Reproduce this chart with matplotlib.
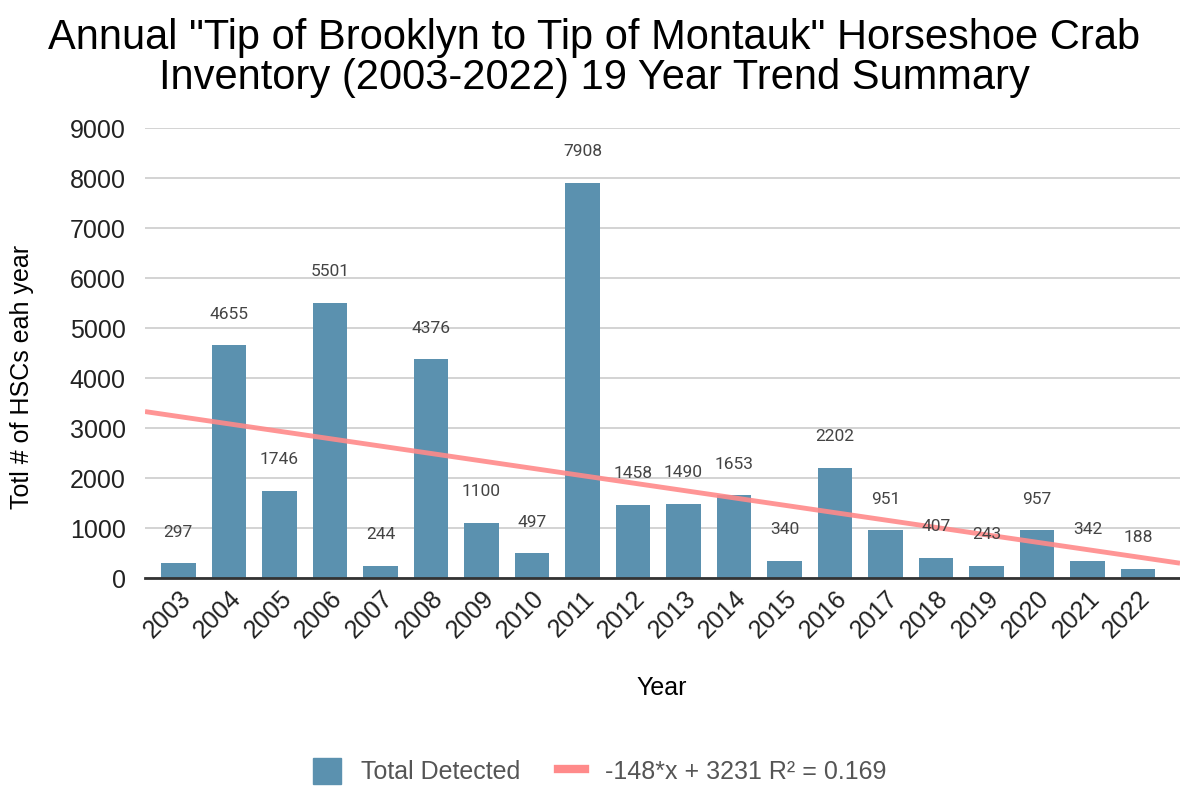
import numpy as np
import matplotlib
matplotlib.use("Agg")
import matplotlib.pyplot as plt
from matplotlib.patches import Patch
from matplotlib.lines import Line2D

plt.rcParams['font.family'] = ['Liberation Sans', 'DejaVu Sans']

years = [str(y) for y in range(2003, 2023)]
detected = [297, 4655, 1746, 5501, 244, 4376, 1100, 497, 7908, 1458,
            1490, 1653, 340, 2202, 951, 407, 243, 957, 342, 188]
trend_slope = -148
trend_icpt = 3231
trend_r2 = 0.169

bar_color = '#5b91af'
trend_color = '#ff8a8a'

fig = plt.figure(figsize=(11.8, 7.88), dpi=100)
ax = fig.add_axes([145 / 1180, 1 - 578 / 788, 1035 / 1180, 450 / 788])

x = np.arange(len(years))
ax.bar(x, detected, width=0.68, color=bar_color, zorder=2)

# value labels above every bar
for xi, v in zip(x, detected):
    ax.annotate(str(v), (xi, v), xytext=(0, 17), textcoords='offset points',
                ha='center', va='bottom', fontsize=12.5, color='#444444',
                family=['Roboto', 'DejaVu Sans'], zorder=4)

ax.set_xlim(-0.66, len(years) - 1 + 0.83)
ax.set_ylim(0, 9000)

# linear trendline across the full plot width
tx = np.array(ax.get_xlim())
ax.plot(tx, trend_slope * tx + trend_icpt, color=trend_color, lw=3.5,
        alpha=0.9, zorder=3, solid_capstyle='butt')

ax.set_yticks(np.arange(0, 9001, 1000))
ax.yaxis.grid(True, color='#cccccc', lw=1.2, zorder=0)
ax.set_axisbelow(True)
ax.tick_params(axis='y', length=0, labelsize=18, pad=14, labelcolor='#222222')
ax.set_xticks(x)
ax.set_xticklabels(years, rotation=45, ha='right', va='top',
                   rotation_mode='anchor', fontsize=18, color='#222222')
ax.tick_params(axis='x', length=0, pad=6)
for s in ['top', 'right', 'left']:
    ax.spines[s].set_visible(False)
ax.spines['bottom'].set_color('#333333')
ax.spines['bottom'].set_linewidth(2)

fig.text(594 / 1180, 1 - 58 / 788,
         'Annual "Tip of Brooklyn to Tip of Montauk" Horseshoe Crab\n'
         'Inventory (2003-2022) 19 Year Trend Summary',
         ha='center', va='center', fontsize=30, linespacing=1.0)
fig.text(22 / 1180, 1 - 377 / 788, 'Totl # of HSCs eah year', rotation=90,
         ha='center', va='center', fontsize=18)
fig.text(662 / 1180, 1 - 688 / 788, 'Year', ha='center', va='center', fontsize=18)

handles = [Patch(color=bar_color),
           Line2D([0], [0], color=trend_color, lw=6)]
labels = ['Total Detected',
          f'{trend_slope}*x + {trend_icpt} R\u00b2 = {trend_r2}']
fig.legend(handles, labels, loc='center', bbox_to_anchor=(600 / 1180, 1 - 771 / 788),
           ncol=2, frameon=False, fontsize=18, labelcolor='#555555',
           handlelength=1.1, handleheight=1.2, handletextpad=0.8,
           columnspacing=1.5)

fig.savefig('out.png', dpi=100)
